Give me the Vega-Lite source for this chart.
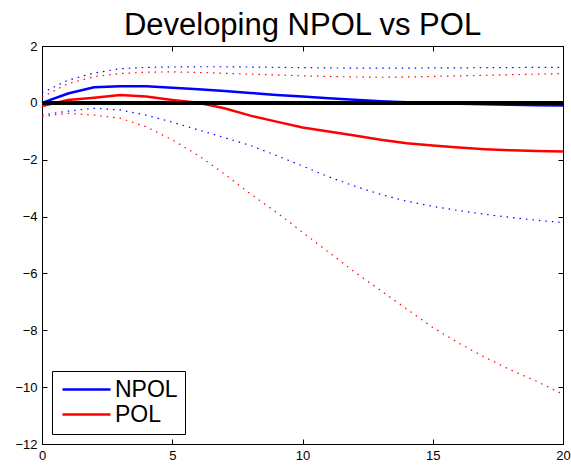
{
  "$schema": "https://vega.github.io/schema/vega-lite/v6.json",
  "width": 521,
  "height": 398,
  "autosize": "none",
  "padding": {"left": 42, "top": 46, "right": 8, "bottom": 24},
  "title": {"text": "Developing NPOL vs POL", "fontSize": 31, "font": "Liberation Sans", "fontWeight": "normal", "color": "black", "offset": 12, "baseline": "alphabetic", "dy": 38},
  "config": {
    "view": {"stroke": "black", "strokeWidth": 1},
    "axis": {"grid": false, "labelFont": "Liberation Sans", "labelFontSize": 13, "labelColor": "black", "tickColor": "black", "domainColor": "black", "tickSize": -5, "tickWidth": 1, "domainWidth": 1, "labelPadding": 10, "title": null, "labelFlush": false, "labelOverlap": false, "labelBound": false},
    "legend": {"labelFont": "Liberation Sans"}
  },
  "data": {"values": [
    {"t":0,"series":"NPOL","mid":0.0,"lo":-0.43,"hi":0.35},
    {"t":1,"series":"NPOL","mid":0.33,"lo":-0.29,"hi":0.8},
    {"t":2,"series":"NPOL","mid":0.55,"lo":-0.19,"hi":1.05},
    {"t":3,"series":"NPOL","mid":0.58,"lo":-0.25,"hi":1.2},
    {"t":4,"series":"NPOL","mid":0.58,"lo":-0.43,"hi":1.25},
    {"t":5,"series":"NPOL","mid":0.53,"lo":-0.68,"hi":1.26},
    {"t":6,"series":"NPOL","mid":0.48,"lo":-0.95,"hi":1.27},
    {"t":7,"series":"NPOL","mid":0.42,"lo":-1.22,"hi":1.27},
    {"t":8,"series":"NPOL","mid":0.35,"lo":-1.5,"hi":1.26},
    {"t":9,"series":"NPOL","mid":0.28,"lo":-1.85,"hi":1.25},
    {"t":10,"series":"NPOL","mid":0.22,"lo":-2.22,"hi":1.24},
    {"t":11,"series":"NPOL","mid":0.16,"lo":-2.6,"hi":1.23},
    {"t":12,"series":"NPOL","mid":0.11,"lo":-2.93,"hi":1.22},
    {"t":13,"series":"NPOL","mid":0.06,"lo":-3.22,"hi":1.22},
    {"t":14,"series":"NPOL","mid":0.02,"lo":-3.46,"hi":1.22},
    {"t":15,"series":"NPOL","mid":-0.01,"lo":-3.64,"hi":1.23},
    {"t":16,"series":"NPOL","mid":-0.03,"lo":-3.79,"hi":1.23},
    {"t":17,"series":"NPOL","mid":-0.05,"lo":-3.92,"hi":1.24},
    {"t":18,"series":"NPOL","mid":-0.07,"lo":-4.03,"hi":1.24},
    {"t":19,"series":"NPOL","mid":-0.08,"lo":-4.13,"hi":1.25},
    {"t":20,"series":"NPOL","mid":-0.09,"lo":-4.21,"hi":1.25},
    {"t":0,"series":"POL","mid":-0.11,"lo":-0.48,"hi":0.2},
    {"t":1,"series":"POL","mid":0.1,"lo":-0.37,"hi":0.68},
    {"t":2,"series":"POL","mid":0.18,"lo":-0.43,"hi":0.92},
    {"t":3,"series":"POL","mid":0.28,"lo":-0.54,"hi":1.03},
    {"t":4,"series":"POL","mid":0.22,"lo":-0.84,"hi":1.08},
    {"t":5,"series":"POL","mid":0.1,"lo":-1.3,"hi":1.09},
    {"t":6,"series":"POL","mid":0.0,"lo":-1.85,"hi":1.07},
    {"t":7,"series":"POL","mid":-0.19,"lo":-2.5,"hi":1.04},
    {"t":8,"series":"POL","mid":-0.45,"lo":-3.2,"hi":1.01},
    {"t":9,"series":"POL","mid":-0.66,"lo":-3.85,"hi":0.98},
    {"t":10,"series":"POL","mid":-0.87,"lo":-4.55,"hi":0.95},
    {"t":11,"series":"POL","mid":-1.01,"lo":-5.25,"hi":0.93},
    {"t":12,"series":"POL","mid":-1.15,"lo":-5.95,"hi":0.91},
    {"t":13,"series":"POL","mid":-1.3,"lo":-6.6,"hi":0.9},
    {"t":14,"series":"POL","mid":-1.42,"lo":-7.25,"hi":0.91},
    {"t":15,"series":"POL","mid":-1.5,"lo":-7.9,"hi":0.93},
    {"t":16,"series":"POL","mid":-1.57,"lo":-8.45,"hi":0.95},
    {"t":17,"series":"POL","mid":-1.63,"lo":-8.95,"hi":0.97},
    {"t":18,"series":"POL","mid":-1.67,"lo":-9.4,"hi":0.99},
    {"t":19,"series":"POL","mid":-1.69,"lo":-9.8,"hi":1.01},
    {"t":20,"series":"POL","mid":-1.71,"lo":-10.25,"hi":1.03}
  ]},
  "layer": [
    {
      "transform": [{"filter": "datum.series === 'NPOL'"}, {"fold": ["lo", "hi"], "as": ["band", "bval"]}],
      "mark": {"type": "line", "stroke": "#0000ff", "strokeWidth": 1.2, "strokeDash": [1.5, 5]},
      "encoding": {
        "x": {"field": "t", "type": "quantitative", "scale": {"domain": [0, 20], "nice": false}, "axis": {"orient": "bottom", "values": [0, 5, 10, 15, 20]}},
        "y": {"field": "bval", "type": "quantitative", "scale": {"domain": [-12, 2], "nice": false}, "axis": {"orient": "left", "values": [-12, -10, -8, -6, -4, -2, 0, 2]}},
        "detail": {"field": "band", "type": "nominal"}
      }
    },
    {
      "transform": [{"filter": "datum.series === 'POL'"}, {"fold": ["lo", "hi"], "as": ["band", "bval"]}],
      "mark": {"type": "line", "stroke": "#ff0000", "strokeWidth": 1.2, "strokeDash": [1.5, 5]},
      "encoding": {
        "x": {"field": "t", "type": "quantitative", "axis": {"orient": "top", "values": [0, 5, 10, 15, 20], "labels": false}},
        "y": {"field": "bval", "type": "quantitative", "axis": {"orient": "right", "values": [-12, -10, -8, -6, -4, -2, 0, 2], "labels": false}},
        "detail": {"field": "band", "type": "nominal"}
      }
    },
    {
      "mark": {"type": "line", "strokeWidth": 2.5},
      "encoding": {
        "x": {"field": "t", "type": "quantitative", "axis": null},
        "y": {"field": "mid", "type": "quantitative", "axis": null},
        "color": {"field": "series", "type": "nominal", "scale": {"domain": ["NPOL", "POL"], "range": ["#0000ff", "#ff0000"]},
          "legend": {"orient": "bottom-left", "offset": 10, "title": null, "strokeColor": "black", "fillColor": "white", "padding": 7, "symbolType": "M-4,0H4", "symbolSize": 144, "symbolOffset": 16, "symbolStrokeWidth": 2.5, "labelFontSize": 23, "labelColor": "black", "rowPadding": 1, "labelOffset": 17, "cornerRadius": 0}}
      }
    },
    {
      "mark": {"type": "rule", "stroke": "black", "strokeWidth": 3},
      "encoding": {"y": {"datum": 0, "type": "quantitative", "axis": null}}
    }
  ],
  "resolve": {"axis": {"x": "independent", "y": "independent"}}
}
